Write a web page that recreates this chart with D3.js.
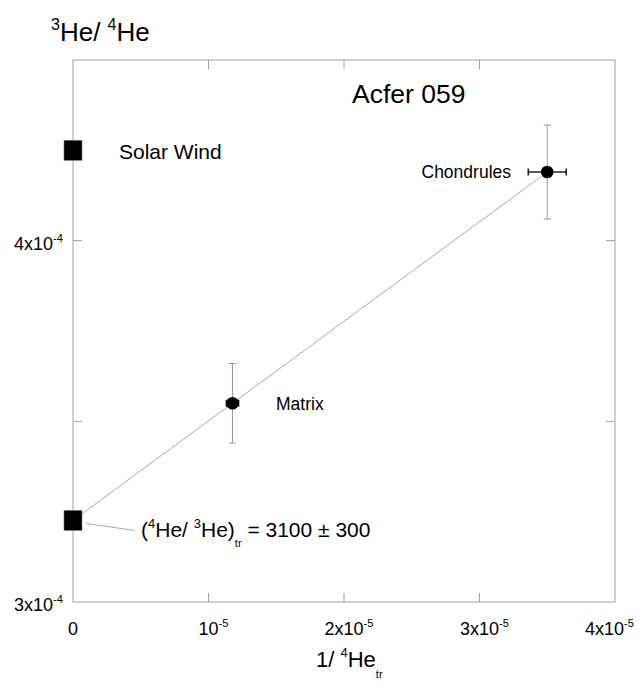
<!DOCTYPE html>
<html>
<head>
<meta charset="utf-8">
<script src="https://cdn.jsdelivr.net/npm/d3@7/dist/d3.min.js"></script>
<style>
  body { margin: 0; background: #fff; }
  svg text { font-family: "Liberation Sans", Arial, Helvetica, sans-serif; fill: #000; }
</style>
</head>
<body>
<svg id="chart" width="639" height="687"></svg>
<script>
// Acfer 059: 3He/4He vs 1/4He (trapped)
const sampleNames = ["Matrix", "Chondrules"];
const sampleX = [1.177e-5, 3.50e-5];
const sampleY = [3.55e-4, 4.19e-4];
const sampleXErr = [0.045e-5, 0.14e-5];
const sampleYErr = [0.11e-4, 0.13e-4];

const endMemberNames = ["Solar Wind", "trapped"];
const endMemberX = [0, 0];
const endMemberY = [4.25e-4, 1 / 3100];

const xTicks = [0, 1e-5, 2e-5, 3e-5, 4e-5];
const xTickBase = ["0", "10", "2x10", "3x10", "4x10"];
const xTickExp = ["", "-5", "-5", "-5", "-5"];
const yTicks = [3e-4, 3.5e-4, 4e-4, 4.5e-4];
const yTickBase = ["3x10", "", "4x10", ""];
const yTickExp = ["-4", "", "-4", ""];

const svg = d3.select("#chart");
const plotL = 73, plotR = 615, plotT = 60, plotB = 602;
const x = d3.scaleLinear().domain([0, 4e-5]).range([plotL, plotR]);
const y = d3.scaleLinear().domain([3e-4, 4.5e-4]).range([plotB, plotT]);

const frameColor = "#a0a0a0";

// Frame
svg.append("rect")
  .attr("x", plotL).attr("y", plotT)
  .attr("width", plotR - plotL).attr("height", plotB - plotT)
  .attr("fill", "none").attr("stroke", frameColor).attr("stroke-width", 1);

// Inward ticks on all four sides
const tickLen = 9;
const innerX = xTicks.filter(v => v > 0 && v < 4e-5);
const innerY = yTicks.filter(v => v > 3e-4 && v < 4.5e-4);
const tickG = svg.append("g").attr("stroke", frameColor).attr("stroke-width", 1);
innerX.forEach(v => {
  tickG.append("line").attr("x1", x(v)).attr("x2", x(v)).attr("y1", plotB).attr("y2", plotB - tickLen);
  tickG.append("line").attr("x1", x(v)).attr("x2", x(v)).attr("y1", plotT).attr("y2", plotT + tickLen);
});
innerY.forEach(v => {
  tickG.append("line").attr("y1", y(v)).attr("y2", y(v)).attr("x1", plotL).attr("x2", plotL + tickLen);
  tickG.append("line").attr("y1", y(v)).attr("y2", y(v)).attr("x1", plotR).attr("x2", plotR - tickLen);
});

// Helper: text with a superscript part
function supText(g, xPos, yPos, base, exp, size, anchor) {
  const t = g.append("text").attr("x", xPos).attr("y", yPos)
    .attr("font-size", size).attr("text-anchor", anchor);
  t.append("tspan").text(base);
  if (exp) {
    t.append("tspan").attr("dy", -size * 0.45).attr("font-size", size * 0.62).text(exp);
  }
  return t;
}

// X tick labels: the mantissa is centred on the tick, exponent trails it
const fs = 18;
xTicks.forEach((v, i) => {
  const g = svg.append("g");
  const base = g.append("text").attr("x", x(v)).attr("y", 635)
    .attr("font-size", fs).attr("text-anchor", "middle").text(xTickBase[i]);
  const bw = base.node().getComputedTextLength();
  let ex = null;
  if (xTickExp[i]) {
    ex = g.append("text").attr("x", x(v) + bw / 2).attr("y", 635 - fs * 0.45)
      .attr("font-size", fs * 0.62).text(xTickExp[i]);
  }
  // keep the last label inside the canvas
  const bb = g.node().getBBox();
  const over = bb.x + bb.width - 634;
  if (over > 0) g.attr("transform", `translate(${-over},0)`);
});
// Y tick labels
yTicks.forEach((v, i) => {
  if (!yTickBase[i]) return;
  supText(svg, 63, y(v) + 9, yTickBase[i], yTickExp[i], fs, "end");
});

// Axis titles
const yTitle = svg.append("text").attr("x", 51).attr("y", 41).attr("font-size", 26);
yTitle.append("tspan").attr("font-size", 16).attr("dy", -11).text("3");
yTitle.append("tspan").attr("dy", 11).text("He/ ");
yTitle.append("tspan").attr("font-size", 16).attr("dy", -11).text("4");
yTitle.append("tspan").attr("dy", 11).text("He");

const xTitle = svg.append("text").attr("x", 316).attr("y", 667).attr("font-size", 22);
xTitle.append("tspan").text("1/ ");
xTitle.append("tspan").attr("font-size", 13).attr("dy", -10).text("4");
xTitle.append("tspan").attr("dy", 10).text("He");
xTitle.append("tspan").attr("font-size", 11).attr("dy", 11).text("tr");

// Chart title
svg.append("text").attr("x", 352).attr("y", 103).attr("font-size", 26.5).text("Acfer 059");

// Mixing line from trapped end-member through the samples
svg.append("line")
  .attr("x1", x(endMemberX[1])).attr("y1", y(endMemberY[1]))
  .attr("x2", x(sampleX[1])).attr("y2", y(sampleY[1]))
  .attr("stroke", "#a8a8a8").attr("stroke-width", 1);

// Leader line to the trapped-composition label
svg.append("line")
  .attr("x1", x(0) + 13).attr("y1", y(endMemberY[1]) + 3)
  .attr("x2", 134).attr("y2", y(endMemberY[1]) + 10)
  .attr("stroke", "#a8a8a8").attr("stroke-width", 1);

// Error bars
const eb = svg.append("g");
sampleNames.forEach((n, i) => {
  const cx = x(sampleX[i]), cy = y(sampleY[i]);
  const y0 = y(sampleY[i] - sampleYErr[i]), y1 = y(sampleY[i] + sampleYErr[i]);
  eb.append("line").attr("x1", cx).attr("x2", cx).attr("y1", y0).attr("y2", y1)
    .attr("stroke", "#999").attr("stroke-width", 1);
  [y0, y1].forEach(yy => eb.append("line").attr("x1", cx - 3.5).attr("x2", cx + 3.5)
    .attr("y1", yy).attr("y2", yy).attr("stroke", "#999").attr("stroke-width", 1));
  const x0 = x(sampleX[i] - sampleXErr[i]), x1 = x(sampleX[i] + sampleXErr[i]);
  eb.append("line").attr("x1", x0).attr("x2", x1).attr("y1", cy).attr("y2", cy)
    .attr("stroke", "#222").attr("stroke-width", 1.6);
  [x0, x1].forEach(xx => eb.append("line").attr("x1", xx).attr("x2", xx)
    .attr("y1", cy - 3.5).attr("y2", cy + 3.5).attr("stroke", "#222").attr("stroke-width", 1.6));
});

// Sample points
svg.append("g").selectAll("circle").data(sampleNames).join("circle")
  .attr("cx", (d, i) => x(sampleX[i])).attr("cy", (d, i) => y(sampleY[i]))
  .attr("r", 6.3).attr("fill", "#000");

// End-member squares
svg.append("g").selectAll("rect").data(endMemberNames).join("rect")
  .attr("x", (d, i) => x(endMemberX[i]) - 9).attr("y", (d, i) => y(endMemberY[i]) - 10)
  .attr("width", 18).attr("height", 20)
  .attr("fill", "#000").attr("stroke", "#777").attr("stroke-width", 0.6);

// Point labels
svg.append("text").attr("x", 511).attr("y", y(sampleY[1]) + 6)
  .attr("font-size", 17.5).attr("text-anchor", "end").text(sampleNames[1]);
svg.append("text").attr("x", 276).attr("y", y(sampleY[0]) + 7)
  .attr("font-size", 17.5).text(sampleNames[0]);
svg.append("text").attr("x", 119).attr("y", y(endMemberY[0]) + 9)
  .attr("font-size", 21).text(endMemberNames[0]);

// Trapped composition label
const tl = svg.append("text").attr("x", 141).attr("y", y(endMemberY[1]) + 17).attr("font-size", 21);
tl.append("tspan").text("(");
tl.append("tspan").attr("font-size", 13).attr("dy", -9).text("4");
tl.append("tspan").attr("dy", 9).text("He/ ");
tl.append("tspan").attr("font-size", 13).attr("dy", -9).text("3");
tl.append("tspan").attr("dy", 9).text("He)");
tl.append("tspan").attr("font-size", 11).attr("dy", 10).text("tr");
tl.append("tspan").attr("dy", -10).text(" = 3100 \u00b1 300");
</script>
</body>
</html>
